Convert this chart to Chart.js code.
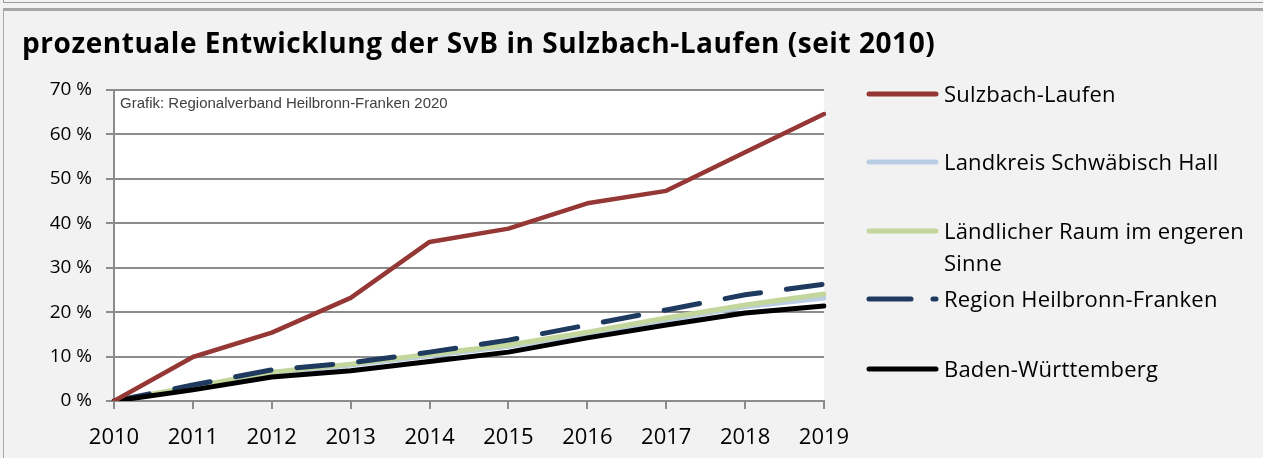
<!DOCTYPE html>
<html>
<head>
<meta charset="utf-8">
<script src="https://cdn.jsdelivr.net/npm/chart.js@4.4.0/dist/chart.umd.min.js"></script>
<style>
  body { margin: 0; background: #f2f2f2; width: 1263px; height: 458px; overflow: hidden; position: relative; }
  .prev { position: absolute; left: 3px; top: -10px; width: 1400px; height: 11px; border: 1px solid #9a9a9a; }
  .box { position: absolute; left: 3px; top: 8px; width: 1400px; height: 600px; border-top: 3px solid #a6a6a6; border-left: 1px solid #a6a6a6; }
  .title { position: absolute; left: 22px; top: 23px; font: bold 28px "Open Sans", sans-serif; letter-spacing: 0.55px; color: #000; white-space: nowrap; }
  .source { position: absolute; left: 120px; top: 94px; font: 15px "Liberation Sans", Arial, sans-serif; color: #404040; white-space: nowrap; }
  #wrap { position: absolute; left: 0; top: 0; width: 1263px; height: 458px; }
  .legend { position: absolute; left: 0; top: 0; }
  .item { position: absolute; left: 866px; }
  .item svg { position: absolute; left: 0; top: 0; }
  .item span { position: absolute; left: 78px; top: -17px; width: 318px; font: 22px "Open Sans", sans-serif; letter-spacing: 0.2px; color: #000; line-height: 32px; }
</style>
</head>
<body>
<div class="prev"></div>
<div class="box"></div>
<div id="wrap"><canvas id="chart" width="1263" height="458"></canvas></div>
<div class="title">prozentuale Entwicklung der SvB in Sulzbach-Laufen (seit 2010)</div>
<div class="source">Grafik: Regionalverband Heilbronn-Franken 2020</div>
<div class="legend" id="legend"></div>
<script>
const years = ['2010', '2011', '2012', '2013', '2014', '2015', '2016', '2017', '2018', '2019'];
const seriesNames = ['Sulzbach-Laufen', 'Landkreis Schwäbisch Hall', 'Ländlicher Raum im engeren Sinne', 'Region Heilbronn-Franken', 'Baden-Württemberg'];
const sulzbach = [0, 9.9, 15.4, 23.2, 35.8, 38.8, 44.5, 47.3, 56.0, 64.6];
const schwaebischHall = [0, 3.0, 6.3, 8.1, 10.2, 12.3, 15.1, 18.3, 21.2, 23.2];
const laendlicherRaum = [0, 3.2, 6.5, 8.3, 10.5, 12.6, 15.5, 18.7, 21.6, 24.1];
const heilbronnFranken = [0, 3.6, 7.0, 8.6, 11.0, 13.7, 17.1, 20.5, 23.9, 26.3];
const badenWuerttemberg = [0, 2.5, 5.4, 6.8, 8.9, 11.0, 14.2, 17.1, 19.8, 21.4];

const colors = ['#953735', '#b9cde5', '#c3d69b', '#1f3a5f', '#000000'];
const dashes = [[], [], [], [36, 26], [], []];
const legendY = [94, 162, 231, 299, 369];

// white plot background behind the grid
const plotBg = {
  id: 'plotBg',
  beforeDraw(chart) {
    const { ctx, chartArea: a } = chart;
    ctx.save();
    ctx.fillStyle = '#ffffff';
    ctx.fillRect(a.left, a.top, a.right - a.left, a.bottom - a.top);
    ctx.restore();
  }
};

const allValues = [sulzbach, schwaebischHall, laendlicherRaum, heilbronnFranken, badenWuerttemberg];
const drawOrder = [0, 4, 3, 2, 1];

const datasets = allValues.map((vals, i) => ({
  label: seriesNames[i],
  data: vals,
  borderColor: colors[i],
  borderWidth: i === 0 ? 4.5 : 5,
  borderDash: dashes[i],
  borderCapStyle: 'round',
  borderJoinStyle: 'round',
  pointRadius: 0,
  tension: 0,
  fill: false,
  order: drawOrder[i]
}));

new Chart(document.getElementById('chart'), {
  type: 'line',
  data: { labels: years, datasets: datasets },
  options: {
    responsive: false,
    animation: false,
    layout: { padding: { left: 0, top: 90, right: 439, bottom: 0 } },
    plugins: { legend: { display: false }, tooltip: { enabled: false } },
    scales: {
      x: {
        offset: false,
        grid: { drawOnChartArea: false, drawTicks: true, tickLength: 8, color: '#8c8c8c', lineWidth: 2 },
        border: { color: '#8c8c8c', width: 2 },
        ticks: { color: '#000', font: { family: '"Open Sans", sans-serif', size: 22 }, padding: 16, maxRotation: 0, autoSkip: false },
        afterFit(scale) { scale.height = 57; }
      },
      y: {
        min: 0,
        max: 70,
        grid: { color: '#8c8c8c', lineWidth: 2, tickLength: 8 },
        border: { color: '#8c8c8c', width: 2 },
        ticks: { stepSize: 10, color: '#000', font: { family: '"Open Sans", sans-serif', size: 19 }, padding: 14, callback: v => v + ' %' },
        afterFit(scale) { scale.width = 114; }
      }
    }
  },
  plugins: [plotBg]
});

// legend built from the series definitions
const legend = document.getElementById('legend');
seriesNames.forEach((name, i) => {
  const item = document.createElement('div');
  item.className = 'item';
  item.style.top = (legendY[i]) + 'px';
  const dash = i === 3 ? 'stroke-dasharray="42 22"' : '';
  item.innerHTML = '<svg width="76" height="10" style="top:-5px"><line x1="3" y1="5" x2="70" y2="5" stroke="' + colors[i] +
    '" stroke-width="5" stroke-linecap="round" ' + dash + '/></svg><span>' + name + '</span>';
  legend.appendChild(item);
});
</script>
</body>
</html>
